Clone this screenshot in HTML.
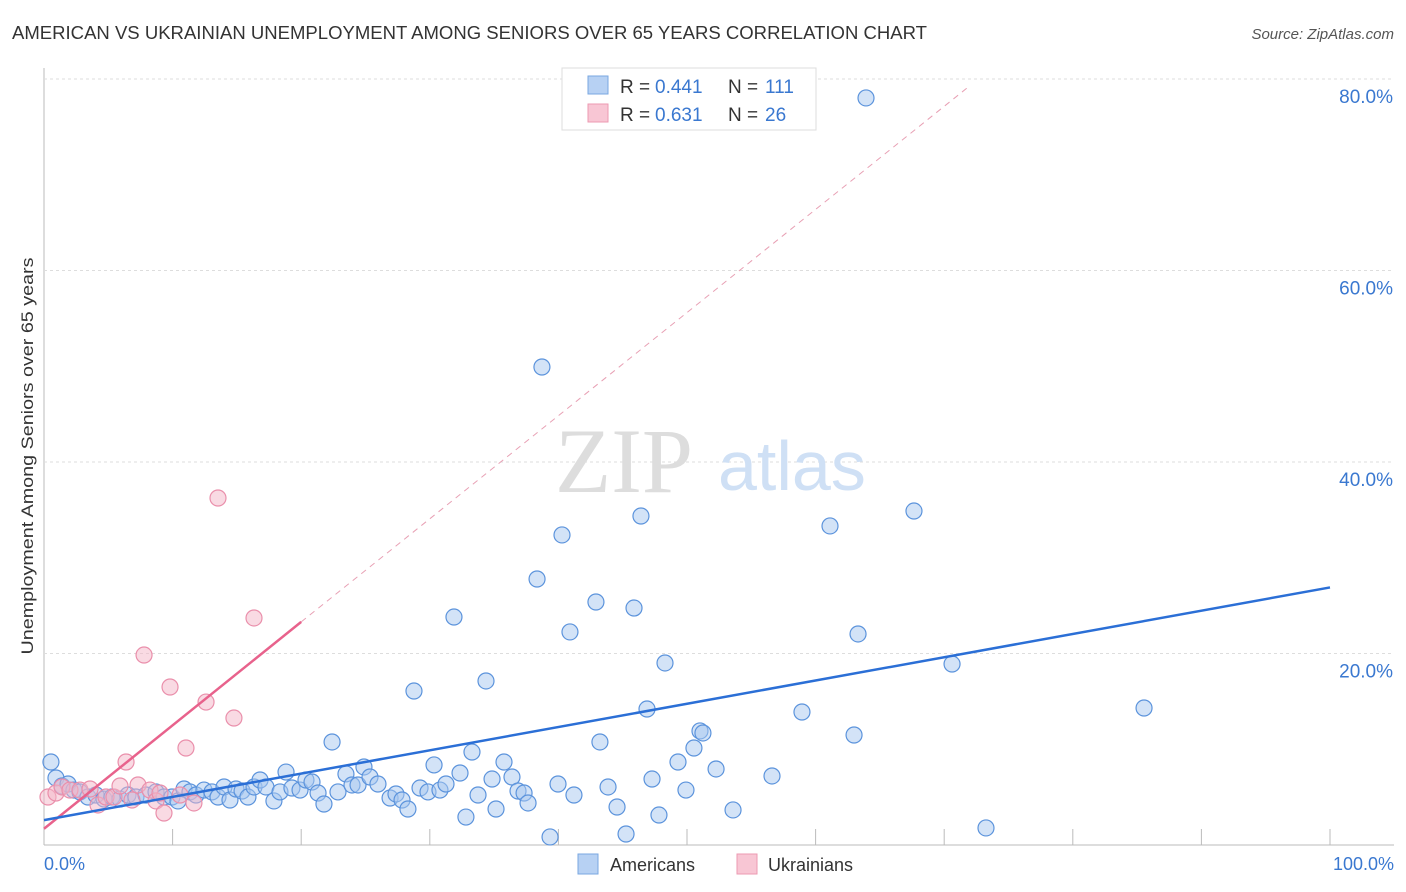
<!DOCTYPE html>
<html><head><meta charset="utf-8"><style>
body{margin:0;background:#fff;font-family:"Liberation Sans",sans-serif}
svg{display:block}
</style></head><body>
<svg id="chart" width="1406" height="892">
<text x="12" y="39" font-size="18" fill="#333" textLength="915" lengthAdjust="spacingAndGlyphs">AMERICAN VS UKRAINIAN UNEMPLOYMENT AMONG SENIORS OVER 65 YEARS CORRELATION CHART</text>
<text x="1394" y="39" font-size="15" fill="#555" font-style="italic" text-anchor="end">Source: ZipAtlas.com</text>
<g id="grid"></g>
<text x="555" y="492" font-size="92" fill="#ddd" font-family="Liberation Serif,serif">ZIP</text>
<text x="718" y="490" font-size="70" fill="#cfe0f5">atlas</text>
<g id="marks"></g>
<text x="33" y="456" font-size="17" fill="#333" text-anchor="middle" textLength="397" lengthAdjust="spacingAndGlyphs" transform="rotate(-90 33 456)">Unemployment Among Seniors over 65 years</text>
<text x="44" y="870" font-size="18" fill="#3a78d0">0.0%</text>
<text x="1394" y="870" font-size="18" fill="#3a78d0" text-anchor="end">100.0%</text>
<g>
<rect x="562" y="68" width="254" height="62" fill="#fff" stroke="#ddd"/>
<rect x="588" y="76" width="20" height="18" fill="#b7d1f3" stroke="#7aa7e0"/>
<text x="620" y="93" font-size="19" fill="#333">R =</text><text x="655" y="93" font-size="19" fill="#3a78d0">0.441</text>
<text x="728" y="93" font-size="19" fill="#333">N =</text><text x="765" y="93" font-size="19" fill="#3a78d0">111</text>
<rect x="588" y="104" width="20" height="18" fill="#f8c6d4" stroke="#ec9ab2"/>
<text x="620" y="121" font-size="19" fill="#333">R =</text><text x="655" y="121" font-size="19" fill="#3a78d0">0.631</text>
<text x="728" y="121" font-size="19" fill="#333">N =</text><text x="765" y="121" font-size="19" fill="#3a78d0">26</text>
</g>
<g><rect x="578" y="854" width="20" height="20" fill="#b7d1f3" stroke="#7aa7e0"/><text x="610" y="871" font-size="18" fill="#333">Americans</text></g>
<g><rect x="737" y="854" width="20" height="20" fill="#f8c6d4" stroke="#ec9ab2"/><text x="768" y="871" font-size="18" fill="#333">Ukrainians</text></g>
</svg>
<script>
const yTicks=[20,40,60,80];
const xTicks=[0,10,20,30,40,50,60,70,80,90,100];
const amPx=[[51,762],[56,778],[62,786],[68,784],[74,790],[80,792],[88,797],[96,795],[104,799],[112,797],[120,799],[128,795],[136,797],[146,795],[156,792],[164,797],[172,797],[178,801],[184,789],[190,792],[196,795],[204,790],[212,792],[218,797],[224,787],[230,800],[236,789],[242,791],[248,797],[254,787],[260,780],[266,787],[274,801],[280,792],[286,772],[292,788],[300,790],[306,780],[312,782],[318,793],[324,804],[332,742],[338,792],[346,774],[352,785],[358,785],[364,767],[370,777],[378,784],[390,798],[396,794],[402,800],[408,809],[414,691],[420,788],[428,792],[434,765],[440,790],[446,784],[454,617],[460,773],[466,817],[472,752],[478,795],[486,681],[492,779],[496,809],[504,762],[512,777],[518,791],[524,793],[528,803],[537,579],[542,367],[550,837],[558,784],[562,535],[570,632],[574,795],[596,602],[600,742],[608,787],[617,807],[626,834],[634,608],[641,516],[647,709],[652,779],[659,815],[665,663],[678,762],[686,790],[694,748],[700,731],[703,733],[716,769],[733,810],[772,776],[802,712],[830,526],[854,735],[858,634],[866,98],[914,511],[952,664],[986,828],[1144,708]];
const ukPx=[[48,797],[56,793],[62,787],[70,790],[80,790],[90,789],[98,805],[106,797],[114,797],[120,786],[126,762],[132,800],[138,785],[144,655],[150,790],[156,801],[160,793],[164,813],[170,687],[180,795],[186,748],[194,803],[206,702],[218,498],[234,718],[254,618]];
const americansX=amPx.map(p=>+((p[0]-44)/12.86).toFixed(2));
const americansY=amPx.map(p=>+((845-p[1])/9.575).toFixed(2));
const ukrainiansX=ukPx.map(p=>+((p[0]-44)/12.86).toFixed(2));
const ukrainiansY=ukPx.map(p=>+((845-p[1])/9.575).toFixed(2));
const blueLine=[[0,2.6],[100,26.9]];
const pinkLine=[[0,1.7],[20,23.3]];
const pinkDash=[[20,23.3],[72,79.3]];

const NS="http://www.w3.org/2000/svg";
const sx=v=>44+v*12.86, sy=v=>845-v*9.575;
function mk(t,a,p){const e=document.createElementNS(NS,t);for(const k in a)e.setAttribute(k,a[k]);p.appendChild(e);return e;}
const grid=document.getElementById('grid'), marks=document.getElementById('marks');
mk('line',{x1:44,y1:68,x2:44,y2:845,stroke:'#bbb'},grid);
mk('line',{x1:44,y1:845,x2:1394,y2:845,stroke:'#bbb'},grid);
yTicks.forEach(t=>{
 const l=mk('line',{x1:44,y1:sy(t),x2:1394,y2:sy(t),stroke:'#ddd','stroke-dasharray':'3,3'},grid);
 
 
 const tx=mk('text',{x:1393,y:sy(t)+24,'font-size':19,fill:'#3a78d0','text-anchor':'end'},grid);
 tx.textContent=t.toFixed(1)+'%';
 
 
});
xTicks.slice(1).forEach(t=>{
 const l=mk('line',{x1:sx(t),y1:829,x2:sx(t),y2:845,stroke:'#bbb'},grid);
 
 
});
americansX.forEach((x,i)=>{
 const c=mk('circle',{cx:sx(x),cy:sy(americansY[i]),r:8,fill:'rgba(168,200,240,0.5)',stroke:'#5b93dc','stroke-width':1.2},marks);
 
 
});
ukrainiansX.forEach((x,i)=>{
 const c=mk('circle',{cx:sx(x),cy:sy(ukrainiansY[i]),r:8,fill:'rgba(244,182,200,0.5)',stroke:'#ea8fab','stroke-width':1.2},marks);
 
 
});
const d=mk('line',{x1:sx(pinkDash[0][0]),y1:sy(pinkDash[0][1]),x2:sx(pinkDash[1][0]),y2:sy(pinkDash[1][1]),stroke:'#e8a0b4','stroke-width':1,'stroke-dasharray':'6,5'},marks);


const p=mk('line',{x1:sx(pinkLine[0][0]),y1:sy(pinkLine[0][1]),x2:sx(pinkLine[1][0]),y2:sy(pinkLine[1][1]),stroke:'#e8628c','stroke-width':2.5},marks);


const b=mk('line',{x1:sx(blueLine[0][0]),y1:sy(blueLine[0][1]),x2:sx(blueLine[1][0]),y2:sy(blueLine[1][1]),stroke:'#2b6fd6','stroke-width':2.5},marks);


</script>
</body></html>
